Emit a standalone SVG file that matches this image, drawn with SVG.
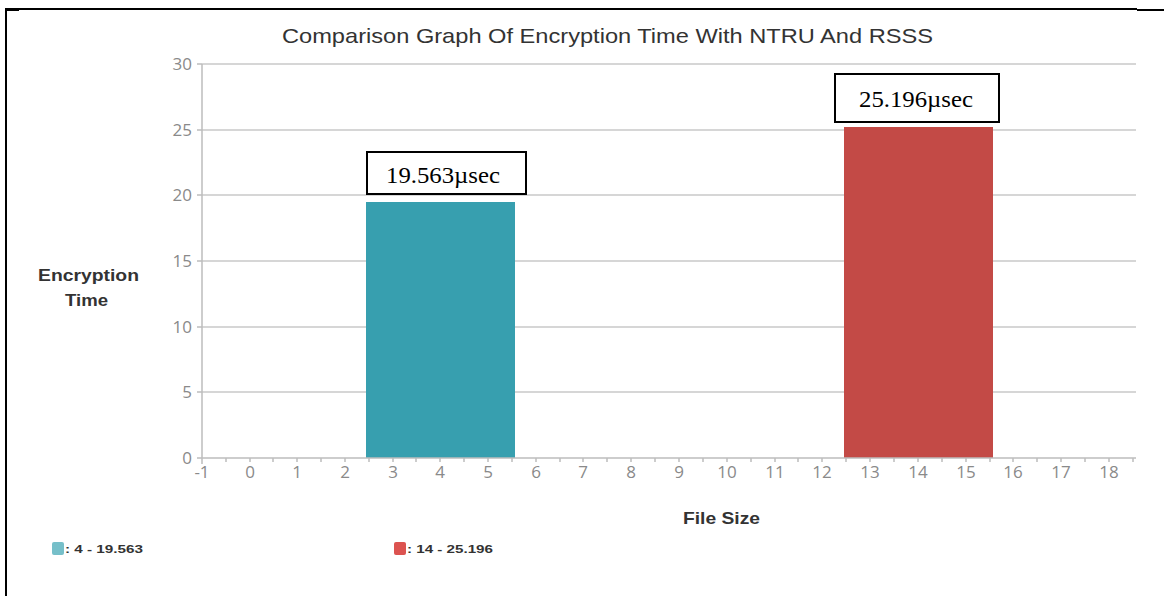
<svg xmlns="http://www.w3.org/2000/svg" width="1164" height="596" viewBox="0 0 1164 596">
<style>
.grid{stroke:#c8c8c8;stroke-width:1.5}
.axis{stroke:#bdbdbd;stroke-width:1.5}
.tick{font-family:"Open Sans","Liberation Sans",sans-serif;font-size:17px;fill:#8a8a8a}
.ttl{font-family:"Liberation Sans",Arial,sans-serif;font-size:21px;fill:#333}
.alab{font-family:"Liberation Sans",Arial,sans-serif;font-size:17px;font-weight:bold;fill:#333}
.leg{font-family:"Liberation Sans",Arial,sans-serif;font-size:11.5px;font-weight:bold;fill:#333}
.box{fill:#fff;stroke:#000;stroke-width:2}
.val{font-family:"Liberation Serif","Times New Roman",serif;font-size:24px;fill:#000}
</style>
<rect width="1164" height="596" fill="#fff"/>
<g id="frame" stroke="#000" stroke-width="2" fill="none">
<path d="M6 9 H1137"/>
<path d="M1137 10 H1164"/>
<path d="M6 8 V596"/>
<path d="M6 10 H19" stroke-width="2"/>
</g>
<text class="ttl" x="282" y="43" textLength="651" lengthAdjust="spacingAndGlyphs">Comparison Graph Of Encryption Time With NTRU And RSSS</text>
<g id="grid">
<line class="grid" x1="202" y1="64" x2="1136" y2="64"/>
<line class="grid" x1="202" y1="130" x2="1136" y2="130"/>
<line class="grid" x1="202" y1="195" x2="1136" y2="195"/>
<line class="grid" x1="202" y1="261" x2="1136" y2="261"/>
<line class="grid" x1="202" y1="327" x2="1136" y2="327"/>
<line class="grid" x1="202" y1="392" x2="1136" y2="392"/>
</g>
<g id="yaxis">
<line class="axis" x1="202" y1="64" x2="202" y2="458"/>
<g class="axis">
<line x1="197" y1="64" x2="202" y2="64"/><line x1="197" y1="130" x2="202" y2="130"/><line x1="197" y1="195" x2="202" y2="195"/><line x1="197" y1="261" x2="202" y2="261"/><line x1="197" y1="327" x2="202" y2="327"/><line x1="197" y1="392" x2="202" y2="392"/><line x1="197" y1="458" x2="202" y2="458"/>
</g>
<g class="tick" text-anchor="end">
<text x="192" y="70">30</text><text x="192" y="136">25</text><text x="192" y="201">20</text><text x="192" y="267">15</text><text x="192" y="333">10</text><text x="192" y="398">5</text><text x="192" y="464">0</text>
</g>
</g>
<g id="bar-4"><rect x="366" y="202" width="149" height="256" fill="#379faf"/></g>
<g id="bar-14"><rect x="844" y="127" width="149" height="331" fill="#c34a46"/></g>
<g id="xaxis">
<line class="axis" x1="202" y1="458" x2="1136" y2="458"/>
<path class="axis" d="M202 458v6M226 458v4M250 458v4M273 458v4M297 458v4M321 458v4M345 458v4M369 458v4M393 458v4M416 458v4M440 458v4M464 458v4M488 458v4M512 458v4M536 458v4M560 458v4M583 458v4M607 458v4M631 458v4M655 458v4M679 458v4M703 458v4M727 458v4M751 458v4M775 458v4M798 458v4M822 458v4M846 458v4M870 458v4M894 458v4M918 458v4M942 458v4M966 458v4M990 458v4M1013 458v4M1037 458v4M1061 458v4M1085 458v4M1109 458v4M1133 458v4"/>
<g class="tick" text-anchor="middle">
<text x="202" y="478">-1</text><text x="250" y="478">0</text><text x="297" y="478">1</text><text x="345" y="478">2</text><text x="393" y="478">3</text><text x="440" y="478">4</text><text x="488" y="478">5</text><text x="536" y="478">6</text><text x="583" y="478">7</text><text x="631" y="478">8</text><text x="679" y="478">9</text><text x="727" y="478">10</text><text x="775" y="478">11</text><text x="822" y="478">12</text><text x="870" y="478">13</text><text x="918" y="478">14</text><text x="966" y="478">15</text><text x="1013" y="478">16</text><text x="1061" y="478">17</text><text x="1109" y="478">18</text>
</g>
</g>
<text class="alab" x="38" y="281" textLength="101" lengthAdjust="spacingAndGlyphs">Encryption</text>
<text class="alab" x="65" y="306" textLength="43" lengthAdjust="spacingAndGlyphs">Time</text>
<text class="alab" x="683" y="524" textLength="77" lengthAdjust="spacingAndGlyphs">File Size</text>
<g id="label-4">
<rect class="box" x="367" y="152" width="159" height="42"/>
<text class="val" x="386" y="183" textLength="114" lengthAdjust="spacingAndGlyphs">19.563µsec</text>
</g>
<g id="label-14">
<rect class="box" x="835" y="74" width="164" height="48"/>
<text class="val" x="859" y="107" textLength="114" lengthAdjust="spacingAndGlyphs">25.196µsec</text>
</g>
<g id="legend-4">
<rect x="52" y="542" width="12" height="13" rx="2" fill="#76bfc9"/>
<text class="leg" x="65" y="553" textLength="78" lengthAdjust="spacingAndGlyphs">: 4 - 19.563</text>
</g>
<g id="legend-14">
<rect x="394" y="542" width="12" height="13" rx="2" fill="#dc5350"/>
<text class="leg" x="407" y="553" textLength="86" lengthAdjust="spacingAndGlyphs">: 14 - 25.196</text>
</g>
</svg>
